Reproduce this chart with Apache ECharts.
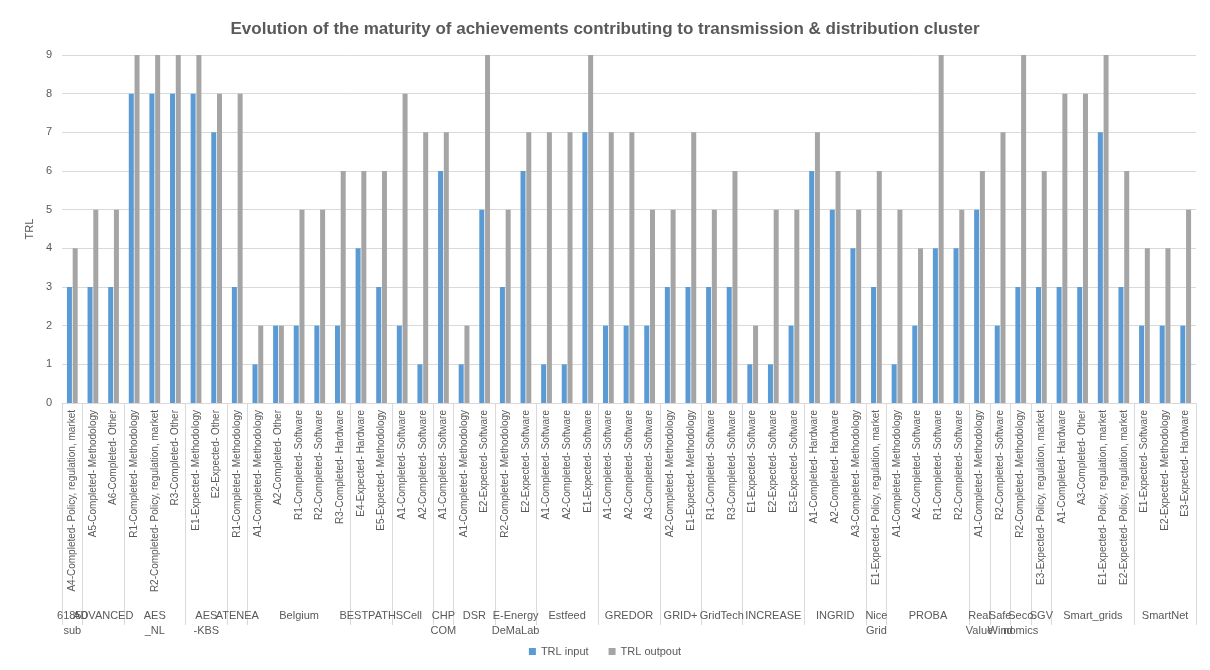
<!DOCTYPE html>
<html>
<head>
<meta charset="utf-8">
<script src="https://cdn.jsdelivr.net/npm/echarts@6/dist/echarts.min.js"></script>
<style>
html,body{margin:0;padding:0;background:#fff;}
#chart{width:1210px;height:670px;}
</style>
</head>
<body>
<div id="chart"></div>
<script>
var categories = [
  'A4-Completed- Policy, regulation, market',
  'A5-Completed- Methodology','A6-Completed- Other',
  'R1-Completed- Methodology','R2-Completed- Policy, regulation, market','R3-Completed- Other',
  'E1-Expected- Methodology','E2-Expected- Other',
  'R1-Completed- Methodology',
  'A1-Completed- Methodology','A2-Completed- Other','R1-Completed- Software','R2-Completed- Software','R3-Completed- Hardware',
  'E4-Expected- Hardware','E5-Expected- Methodology',
  'A1-Completed- Software','A2-Completed- Software',
  'A1-Completed- Software',
  'A1-Completed- Methodology','E2-Expected- Software',
  'R2-Completed- Methodology','E2-Expected- Software',
  'A1-Completed- Software','A2-Completed- Software','E1-Expected- Software',
  'A1-Completed- Software','A2-Completed- Software','A3-Completed- Software',
  'A2-Completed- Methodology','E1-Expected- Methodology',
  'R1-Completed- Software','R3-Completed- Software',
  'E1-Expected- Software','E2-Expected- Software','E3-Expected- Software',
  'A1-Completed- Hardware','A2-Completed- Hardware','A3-Completed- Methodology',
  'E1-Expected- Policy, regulation, market',
  'A1-Completed- Methodology','A2-Completed- Software','R1-Completed- Software','R2-Completed- Software',
  'A1-Completed- Methodology',
  'R2-Completed- Software',
  'R2-Completed- Methodology',
  'E3-Expected- Policy, regulation, market',
  'A1-Completed- Hardware','A3-Completed- Other','E1-Expected- Policy, regulation, market','E2-Expected- Policy, regulation, market',
  'E1-Expected- Software','E2-Expected- Methodology','E3-Expected- Hardware'
];
var trlInput = [3, 3,3, 8,8,8, 8,7, 3, 1,2,2,2,2, 4,3, 2,1, 6, 1,5, 3,6, 1,1,7, 2,2,2, 3,3, 3,3, 1,1,2, 6,5,4, 3, 1,2,4,4, 5, 2, 3, 3, 3,3,7,3, 2,2,2];
var trlOutput = [4, 5,5, 9,9,9, 9,8, 8, 2,2,5,5,6, 6,6, 8,7, 7, 2,9, 5,7, 7,7,9, 7,7,5, 5,7, 5,6, 2,5,5, 7,6,5, 6, 5,4,9,5, 6, 7, 9, 6, 8,8,9,6, 4,4,5];
var groupNames = ['61850\nsub','ADVANCED','AES\n_NL','AES\n-KBS','ATENEA','Belgium','BESTPATHS','Cell','CHP\nCOM','DSR','E-Energy\nDeMaLab','Estfeed','GREDOR','GRID+','GridTech','INCREASE','INGRID','Nice\nGrid','PROBA','Real\nValue','Safe\nWind','Seco\nnomics','SGV','Smart_grids','SmartNet'];
var groupSizes = [1,2,3,2,1,5,2,2,1,2,2,3,3,2,2,3,3,1,4,1,1,1,1,4,3];
var yTicks = [0,1,2,3,4,5,6,7,8,9];

var boundaries = [0], centers = [], centerName = {};
var acc = 0;
groupSizes.forEach(function(s, i){
  var c = acc + s / 2;
  centers.push(c);
  centerName[c] = groupNames[i];
  acc += s;
  boundaries.push(acc);
});
var total = acc;
var firstCenter = centers.slice(0, 1);
var otherCenters = centers.slice(1);

var txt = '#595959';
function groupAxis(ticks, labelValues) {
  return {
    type: 'value',
    position: 'bottom',
    min: 0, max: total,
    axisLine: {show: false},
    splitLine: {show: false},
    axisTick: {show: !!ticks, customValues: ticks || [], length: 222, lineStyle: {color: '#d9d9d9'}},
    axisLabel: {
      customValues: labelValues, margin: 205, fontSize: 11, color: txt, lineHeight: 15,
      showMinLabel: true, showMaxLabel: true, hideOverlap: false,
      formatter: function(v){ return centerName[v] || ''; }
    }
  };
}

var chart = echarts.init(document.getElementById('chart'));
chart.setOption({
  animation: false,
  textStyle: {fontFamily: 'Liberation Sans, Arial, sans-serif'},
  title: {
    text: 'Evolution of the maturity of achievements contributing to transmission & distribution cluster',
    left: 'center', top: 16,
    textStyle: {fontSize: 17, fontWeight: 'bold', color: txt}
  },
  legend: {
    bottom: 8, left: 'center',
    icon: 'rect', itemWidth: 7, itemHeight: 7, itemGap: 20,
    textStyle: {fontSize: 11, color: txt},
    data: ['TRL input', 'TRL outpout']
  },
  grid: {left: 62, right: 14, top: 55, bottom: 267, containLabel: false},
  xAxis: [{
    type: 'category',
    data: categories,
    axisLine: {show: true, lineStyle: {color: '#d9d9d9'}},
    axisTick: {show: false},
    axisLabel: {interval: 0, rotate: 90, fontSize: 10, color: txt, margin: 7}
  }, groupAxis(boundaries, otherCenters), groupAxis(null, firstCenter)],
  yAxis: {
    type: 'value', min: 0, max: 9, interval: 1,
    name: 'TRL', nameLocation: 'middle', nameGap: 22, nameRotate: 90,
    nameTextStyle: {fontSize: 11, color: txt},
    axisLine: {show: false}, axisTick: {show: false},
    axisLabel: {fontSize: 11, color: txt, margin: 10},
    splitLine: {lineStyle: {color: '#d9d9d9'}}
  },
  series: [{
    name: 'TRL input', type: 'bar', data: trlInput,
    barWidth: 5, barGap: '15%',
    itemStyle: {color: '#5B9BD5'}
  }, {
    name: 'TRL outpout', type: 'bar', data: trlOutput,
    barWidth: 5, barGap: '15%',
    itemStyle: {color: '#A5A5A5'}
  }]
});
</script>
</body>
</html>
